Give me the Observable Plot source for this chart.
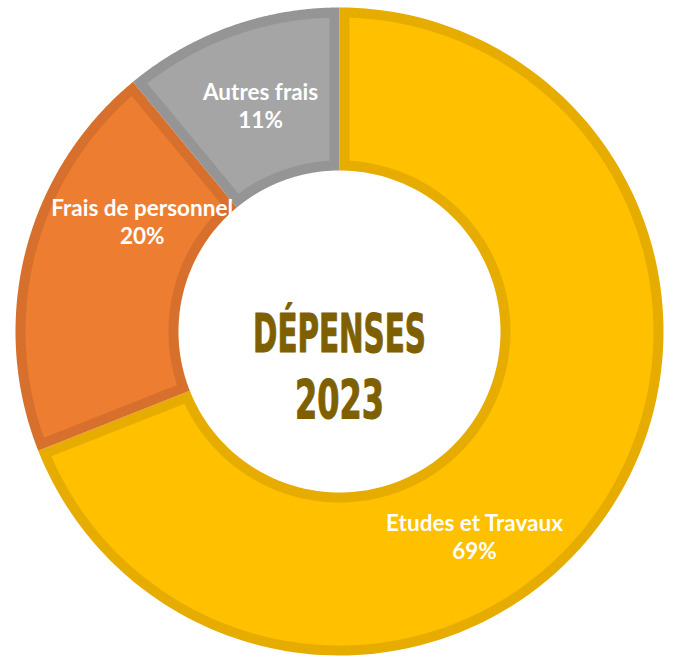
<!DOCTYPE html>
<html>
<head>
<meta charset="utf-8">
<script src="https://cdn.jsdelivr.net/npm/d3@7"></script>
<script src="https://cdn.jsdelivr.net/npm/@observablehq/plot@0.6"></script>
<style>
  html, body { margin: 0; padding: 0; background: #fff; }
  #chart svg { display: block; }
</style>
</head>
<body>
<div id="chart"></div>
<script>
// ---- data ----
const categories = ["Etudes et Travaux", "Frais de personnel", "Autres frais"];
const values = [69, 20, 11];
const percentLabels = ["69%", "20%", "11%"];
const fillColors = ["#FFC000", "#ED7D31", "#A5A5A5"];
const borderColors = ["#E6AC00", "#D6702C", "#959595"];
const centerTitle = ["DÉPENSES", "2023"];

// ---- layout (pixels) ----
const W = 673, H = 657;
const cx = 339, cy = 331;
const R = 324, r = 161, border = 10;
// label placement: fraction along slice and radius
const labelT = [0.59, 0.705, 0.515];
const labelR = [245, 226, 240];
// centre title: vertical offsets (px, up positive) and condensed widths
const titleY = [-3, -69];
const titleW = [173, 89];

const total = d3.sum(values);
let cum = 0;
const slices = categories.map((c, i) => {
  const a0 = cum / total * 2 * Math.PI;
  cum += values[i];
  const a1 = cum / total * 2 * Math.PI;
  return {category: c, value: values[i], a0, a1, i};
});

function ring(s, d) {
  const Ro = R - d, Ri = r + d;
  const pts = [];
  const n = 160;
  const o0 = s.a0 + (d ? Math.asin(d / Ro) : 0), o1 = s.a1 - (d ? Math.asin(d / Ro) : 0);
  const i0 = s.a0 + (d ? Math.asin(d / Ri) : 0), i1 = s.a1 - (d ? Math.asin(d / Ri) : 0);
  for (let k = 0; k <= n; k++) {
    const a = o0 + (o1 - o0) * k / n;
    pts.push({x: Ro * Math.sin(a), y: Ro * Math.cos(a), key: s.category, i: s.i});
  }
  for (let k = n; k >= 0; k--) {
    const a = i0 + (i1 - i0) * k / n;
    pts.push({x: Ri * Math.sin(a), y: Ri * Math.cos(a), key: s.category, i: s.i});
  }
  return pts;
}

const outerPts = slices.flatMap(s => ring(s, 0));
const innerPts = slices.flatMap(s => ring(s, border));

const labels = slices.map((s, i) => {
  const a = s.a0 + (s.a1 - s.a0) * labelT[i];
  return {x: labelR[i] * Math.sin(a), y: labelR[i] * Math.cos(a), text: categories[i] + "\n" + percentLabels[i]};
});

const titleRows = centerTitle.map((t, k) => ({text: t, x: 0, y: titleY[k]}));

const labelFont = "Lato, 'Open Sans', sans-serif";

const chart = Plot.plot({
  width: W, height: H,
  margin: 0,
  x: {domain: [-cx, W - cx], range: [0, W], axis: null},
  y: {domain: [cy - H, cy], range: [H, 0], axis: null},
  marks: [
    Plot.line(outerPts, {x: "x", y: "y", z: "key", fill: d => borderColors[d.i], stroke: "none", curve: "linear-closed"}),
    Plot.line(innerPts, {x: "x", y: "y", z: "key", fill: d => fillColors[d.i], stroke: "none", curve: "linear-closed"}),
    Plot.text(labels, {x: "x", y: "y", text: "text", fill: "white", fontSize: 22.5, fontWeight: "bold", fontFamily: labelFont, lineHeight: 1.25}),
    Plot.text(titleRows, {x: "x", y: "y", text: "text", fill: "#7F6000", stroke: "#7F6000", strokeWidth: 1.2, fontSize: 54, fontWeight: "bold", fontFamily: "'DejaVu Sans', sans-serif"})
  ]
});
document.getElementById("chart").appendChild(chart);

// condense the centre title to match the reference's narrow display face
chart.querySelectorAll("text").forEach(el => {
  const k = centerTitle.indexOf(el.textContent);
  if (k >= 0) {
    el.setAttribute("textLength", titleW[k]);
    el.setAttribute("lengthAdjust", "spacingAndGlyphs");
  }
});
</script>
</body>
</html>
